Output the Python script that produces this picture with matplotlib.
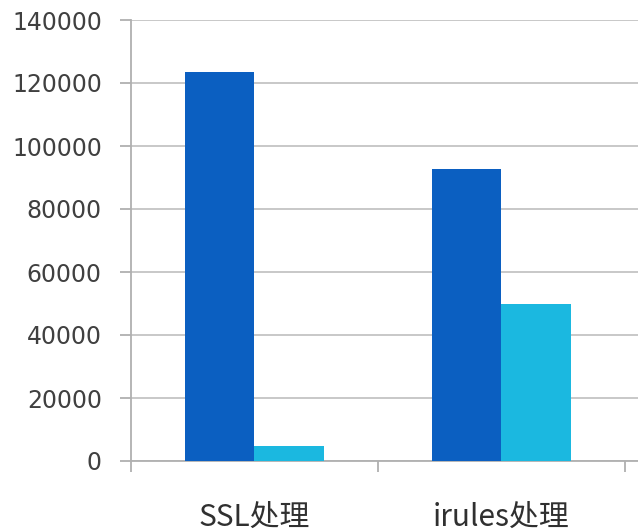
import matplotlib.pyplot as plt
import numpy as np

categories = ['SSL处理', 'irules处理']
series_dark = [123500, 92600]
series_light = [4900, 50000]
y_ticks = [0, 20000, 40000, 60000, 80000, 100000, 120000, 140000]

fig = plt.figure(figsize=(6.38, 5.32), dpi=100)
ax = fig.add_axes([131 / 638, 1 - 461 / 532, 1 - 131 / 638, (461 - 20) / 532])

x = np.arange(len(categories))
w = 0.283
ax.bar(x - w / 2, series_dark, width=w, color='#0b5fc1', zorder=3)
ax.bar(x + w / 2, series_light, width=w, color='#1bb8e0', zorder=3)

ax.set_ylim(0, 140000)
ax.set_xlim(-0.5, 1.553)
ax.set_yticks(y_ticks)
ax.set_yticklabels([str(v) for v in y_ticks], fontsize=17, color='#404040', family='DejaVu Sans')
ax.yaxis.grid(True, color='#c4c4c4', linewidth=1.3, zorder=0)
ax.tick_params(axis='y', length=8, width=1.3, color='#b0b0b0', pad=13)

# category labels centred, boundary ticks between groups
ax.set_xticks([-0.5, 0.5, 1.5])
ax.set_xticklabels([])
ax.tick_params(axis='x', length=8, width=1.3, color='#b0b0b0')
for xi, lab in zip(x, categories):
    ax.text(xi, -0.128, lab, transform=ax.get_xaxis_transform(), ha='center', va='center',
            fontsize=21.5, color='#303030', family=['Noto Sans CJK SC', 'DejaVu Sans'])

for s in ['top', 'right']:
    ax.spines[s].set_visible(False)
for s in ['left', 'bottom']:
    ax.spines[s].set_color('#b0b0b0')
    ax.spines[s].set_linewidth(1.3)

fig.savefig('out.png', dpi=100)
